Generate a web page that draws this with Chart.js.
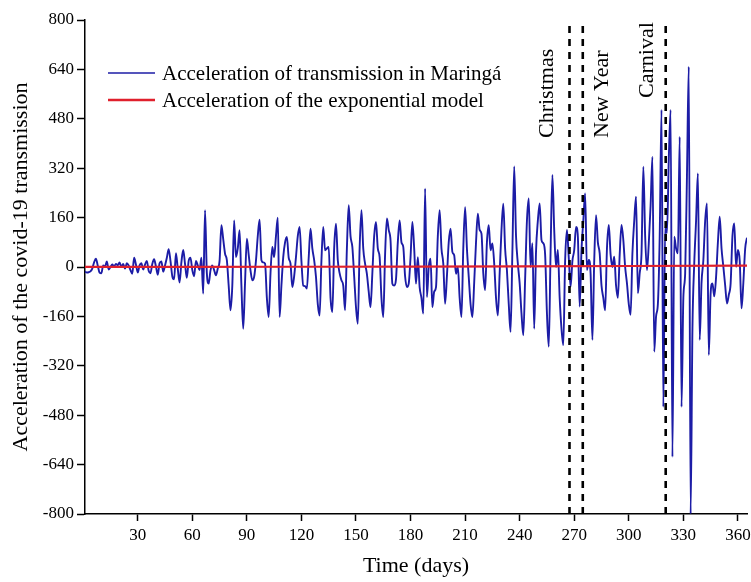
<!DOCTYPE html>
<html><head><meta charset="utf-8">
<script src="https://cdn.jsdelivr.net/npm/chart.js@4/dist/chart.umd.min.js"></script>
<style>html,body{margin:0;padding:0;background:#fff;}canvas{display:block;}</style>
</head><body>
<canvas id="c" width="751" height="582"></canvas>
<script>
// ---- data ----
const firstDay = 1;
const maringaAccel = [
 -15,-18,-17,-14,-5,15,27,5,-18,-20,
 5,2,18,-8,0,8,2,10,6,15,
 0,10,-5,12,5,-10,-22,30,8,-18,
 5,12,-8,8,20,-12,-20,10,25,2,
 -25,12,18,-15,5,30,58,20,-30,-40,
 45,-5,-50,15,55,10,-35,20,30,-10,
 -30,20,5,-10,30,-86,184,-20,-54,-11,
 5,-10,-27,-5,20,135,90,43,22,-60,
 -140,-60,151,32,60,119,-60,-200,-50,92,
 40,-11,-43,-32,20,100,153,22,15,11,
 -100,-162,-20,65,32,100,160,-162,-60,32,
 80,97,30,11,-65,-30,32,100,130,20,
 -60,-62,-70,30,124,60,22,-32,-120,-157,
 20,130,54,60,65,-100,-146,60,140,22,
 -20,-43,-60,-140,60,200,100,65,-30,-130,
 -184,60,184,60,11,-22,-80,-130,-20,100,
 146,60,32,-100,-162,40,157,120,86,-54,
 -60,-40,80,151,80,65,-30,-65,-54,32,
 146,60,-54,32,-65,-100,-151,254,-97,0,
 27,-130,-80,-65,100,184,60,11,-119,-30,
 80,124,49,38,-22,0,-100,-162,60,194,
 60,-32,-120,-162,-50,80,173,120,108,-20,
 -75,80,135,54,76,11,-100,-157,-20,120,
 205,60,-11,-120,-210,50,326,100,11,-53,
 -150,-221,-40,150,222,0,77,-200,50,150,
 206,87,77,40,-150,-258,50,298,120,0,
 55,-100,-200,-253,20,120,30,-64,20,55,
 130,98,-128,55,150,238,-10,23,-20,-236,
 20,168,80,44,-60,-100,-140,60,136,40,
 0,33,-60,-100,40,136,87,0,-53,-120,
 -155,44,150,228,-85,-20,44,325,100,-10,
 77,200,357,-274,-160,-120,100,509,-453,131,
 110,350,509,-615,98,60,44,422,-453,-100,
 -20,300,649,-800,-200,12,150,303,-236,-50,
 22,150,206,-285,-85,-53,-95,-32,80,163,
 60,1,-60,-118,-90,-53,100,141,1,55,
 20,-134,-50,60,95
];
const modelDays  = [1, 60, 120, 180, 240, 300, 365];
const modelAccel = [0.2, 0.4, 0.8, 1.3, 2.1, 3.2, 4.5];
const eventDays  = [267.4, 274.7, 320.3];
const eventNames = ['Christmas', 'New Year', 'Carnival'];
const xTicks = [30, 60, 90, 120, 150, 180, 210, 240, 270, 300, 330, 360];
const yTicks = [-800, -640, -480, -320, -160, 0, 160, 320, 480, 640, 800];
const seriesNames = ['Acceleration of transmission in Maringá', 'Acceleration of the exponential model'];
const xTitle = 'Time (days)';
const yTitle = 'Acceleration of the covid-19 transmission';

// ---- styling ----
const FONT = '"Liberation Serif", "Times New Roman", Times, serif';
const BLUE = '#1c1ca6';
const RED = '#e0202c';

const blueData = maringaAccel.map((v, i) => ({x: firstDay + i, y: v}));
const redData = modelDays.map((d, i) => ({x: d, y: modelAccel[i]}));

const datasets = [
  {label: seriesNames[1], data: redData, borderColor: RED, borderWidth: 2.2, pointRadius: 0, order: 0, tension: 0},
  {label: seriesNames[0], data: blueData, borderColor: BLUE, borderWidth: 1.9, pointRadius: 0, order: 2, cubicInterpolationMode: 'monotone'}
];
eventDays.forEach((d, i) => {
  datasets.push({label: eventNames[i], data: [{x: d, y: yTicks[0]}, {x: d, y: yTicks[yTicks.length - 1]}],
    borderColor: '#000', borderWidth: 2.6, borderDash: [7, 6], pointRadius: 0, order: 1});
});

const overlay = {
  id: 'overlay',
  afterDatasetsDraw(chart) {
    const ctx = chart.ctx, xs = chart.scales.x;
    ctx.save();
    ctx.fillStyle = '#000';
    ctx.font = '22px ' + FONT;
    ctx.textAlign = 'left';
    ctx.textBaseline = 'alphabetic';
    const offs = [-16, 25.6, -12.7];
    const bottoms = [138, 138, 98];
    eventDays.forEach((d, i) => {
      const px = xs.getPixelForValue(d);
      ctx.save();
      ctx.translate(px + offs[i], bottoms[i]);
      ctx.rotate(-Math.PI / 2);
      ctx.fillText(eventNames[i], 0, 0);
      ctx.restore();
    });
    // legend
    const rows = [{c: BLUE, w: 1.6, y: 73, t: seriesNames[0]}, {c: RED, w: 2.4, y: 100, t: seriesNames[1]}];
    ctx.font = '21px ' + FONT;
    ctx.textBaseline = 'middle';
    rows.forEach(r => {
      ctx.strokeStyle = r.c; ctx.lineWidth = r.w;
      ctx.beginPath(); ctx.moveTo(108, r.y); ctx.lineTo(155, r.y); ctx.stroke();
      ctx.fillText(r.t, 162, r.y + 1);
    });
    ctx.restore();
  }
};

new Chart(document.getElementById('c'), {
  type: 'line',
  data: {datasets},
  plugins: [overlay],
  options: {
    responsive: false,
    animation: false,
    devicePixelRatio: 1,
    layout: {padding: {left: 0, right: 4, top: 20, bottom: 0}},
    plugins: {legend: {display: false}, tooltip: {enabled: false}},
    elements: {line: {borderCapStyle: 'butt'}},
    scales: {
      x: {
        type: 'linear', min: 1, max: 365,
        afterBuildTicks: s => { s.ticks = xTicks.map(v => ({value: v})); },
        afterFit: s => { s.height = 68; s.paddingLeft = 0; s.paddingRight = 0; },
        border: {color: '#000', width: 1.5},
        grid: {drawOnChartArea: false, drawTicks: true, tickLength: 7, color: '#000', tickWidth: 1.5},
        ticks: {color: '#000', font: {family: FONT, size: 17}, padding: 4, maxRotation: 0, autoSkip: false},
        title: {display: true, text: xTitle, color: '#000', font: {family: FONT, size: 22}, padding: {top: 0, bottom: 3}}
      },
      y: {
        type: 'linear', min: -800, max: 800,
        afterBuildTicks: s => { s.ticks = yTicks.map(v => ({value: v})); },
        afterFit: s => { s.width = 85; s.paddingTop = 0; s.paddingBottom = 0; },
        border: {color: '#000', width: 1.5},
        grid: {drawOnChartArea: false, drawTicks: true, tickLength: 8, color: '#000', tickWidth: 1.5},
        ticks: {color: '#000', font: {family: FONT, size: 17}, padding: 3, autoSkip: false},
        title: {display: true, text: yTitle, color: '#000', font: {family: FONT, size: 22}, padding: {top: 8, bottom: 0}}
      }
    }
  }
});
</script>
</body></html>
